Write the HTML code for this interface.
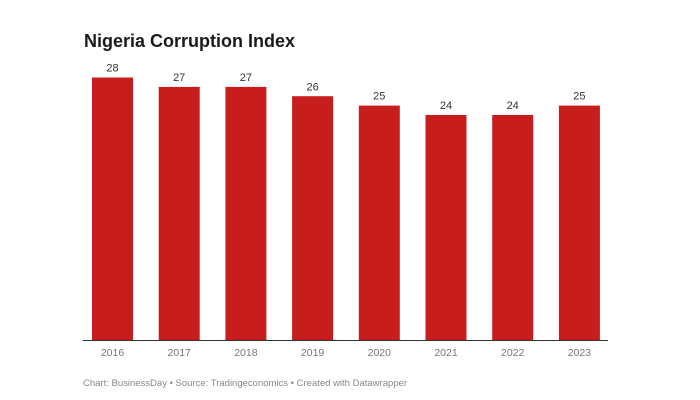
<!DOCTYPE html>
<html><head><meta charset="utf-8"><style>
html,body{margin:0;padding:0;background:#fff;}
body{width:700px;height:400px;position:relative;overflow:hidden;font-family:"Liberation Sans",sans-serif;}
.t{position:absolute;left:84px;top:31px;font-size:18px;font-weight:bold;color:#1a1a1a;}
.f{position:absolute;left:83px;top:378px;font-size:9.5px;color:#888;}
</style></head><body>
<div class="t">Nigeria Corruption Index</div>
<svg width="700" height="400" style="position:absolute;left:0;top:0" xmlns="http://www.w3.org/2000/svg">
<g fill="#c81d1d">
<rect x="92" y="77.5" width="41" height="262.5"/>
<rect x="158.7" y="86.9" width="41" height="253.1"/>
<rect x="225.4" y="86.9" width="41" height="253.1"/>
<rect x="292.1" y="96.2" width="41" height="243.8"/>
<rect x="358.8" y="105.6" width="41" height="234.4"/>
<rect x="425.5" y="115" width="41" height="225"/>
<rect x="492.2" y="115" width="41" height="225"/>
<rect x="558.9" y="105.6" width="41" height="234.4"/>
</g>
<line x1="83" y1="340.5" x2="608" y2="340.5" stroke="#333" stroke-width="1"/>
<g font-family="Liberation Sans, sans-serif" font-size="11" fill="#333" text-anchor="middle">
<text x="112.5" y="71.5">28</text>
<text x="179.2" y="81">27</text>
<text x="245.9" y="81">27</text>
<text x="312.6" y="90.3">26</text>
<text x="379.3" y="99.7">25</text>
<text x="446" y="109">24</text>
<text x="512.7" y="109">24</text>
<text x="579.4" y="99.7">25</text>
</g>
<g font-family="Liberation Sans, sans-serif" font-size="10.5" fill="#777" text-anchor="middle">
<text x="112.5" y="356">2016</text>
<text x="179.2" y="356">2017</text>
<text x="245.9" y="356">2018</text>
<text x="312.6" y="356">2019</text>
<text x="379.3" y="356">2020</text>
<text x="446" y="356">2021</text>
<text x="512.7" y="356">2022</text>
<text x="579.4" y="356">2023</text>
</g>
</svg>
<div class="f">Chart: BusinessDay • Source: Tradingeconomics • Created with Datawrapper</div>
</body></html>
